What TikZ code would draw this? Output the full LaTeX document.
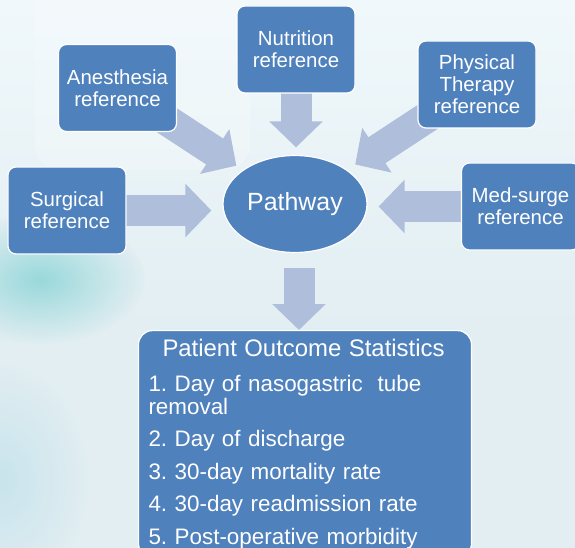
\documentclass[tikz,border=0pt]{standalone}
\usepackage{fontspec}
\setmainfont{Liberation Sans}
\usetikzlibrary{shapes.geometric,arrows.meta}
\definecolor{boxblue}{RGB}{79,129,189}
\definecolor{arrowblue}{RGB}{175,191,219}
\definecolor{bgbase}{RGB}{226,238,242}
\definecolor{bgtop}{RGB}{240,248,251}
\definecolor{tealglow}{RGB}{140,213,215}
\definecolor{blueglow}{RGB}{190,224,235}
\pgfdeclarelayer{bg}
\pgfdeclarelayer{arr}
\pgfsetlayers{bg,arr,main}
\frenchspacing
\tikzset{
  refbox/.style={rectangle, rounded corners=8bp, fill=boxblue, draw=white, line width=1.2bp,
    minimum width=118bp, minimum height=87bp, text=white, align=center,
    font=\fontsize{20.5}{22}\selectfont, inner sep=2bp},
  hubnode/.style={ellipse, fill=boxblue, draw=white, line width=1.2bp,
    minimum width=144bp, minimum height=97bp, inner sep=0pt, text=white,
    font=\fontsize{25}{27}\selectfont},
  statbox/.style={rectangle, rounded corners=14bp, fill=boxblue, draw=white, line width=1.2bp,
    text width=313bp, inner xsep=10bp, inner ysep=8.7bp, text=white, align=left,
    font=\fontsize{22.5}{23.5}\selectfont},
  blockarrow/.style={draw=arrowblue, line width=31bp, -{Triangle[length=26bp,width=52bp]}}
}
\begin{document}
\begin{tikzpicture}[x=1bp,y=-1bp]
\useasboundingbox (0,0) rectangle (575,548);
\begin{pgfonlayer}{bg}
  \fill[bgbase] (0,0) rectangle (575,548);
  \shade[top color=bgtop, bottom color=bgbase] (0,0) rectangle (575,330);
  \fill[white, opacity=0.22, rounded corners=25bp] (35,-30) rectangle (250,170);
  \shade[inner color=tealglow, outer color=bgbase, opacity=0.85] (40,280) ellipse (105 and 65);
  \shade[inner color=blueglow, outer color=bgbase, opacity=0.7] (0,480) ellipse (90 and 120);
\end{pgfonlayer}

\node[refbox] (anes) at (117.5,88) {Anesthesia\\reference};
\node[refbox] (nutr) at (296,49.5) {Nutrition\\reference};
\node[refbox] (phys) at (477,84.5) {Physical\\Therapy\\reference};
\node[refbox] (surg) at (67,210.5) {Surgical\\reference};
\node[refbox] (med) at (520.5,206.5) {Med-surge\\reference};
\node[hubnode] (pw) at (295,204) {Pathway};
\node[statbox, anchor=north] (stats) at (305,330)
  {\hspace*{14bp}{\fontsize{24}{23.5}\selectfont Patient Outcome Statistics}\\[11bp]
   1. Day of nasogastric\ \ tube\\
   removal\\[9bp]
   2. Day of discharge\\[9bp]
   3. 30-day mortality rate\\[9bp]
   4. 30-day readmission rate\\[9bp]
   5. Post-operative morbidity};

\begin{pgfonlayer}{arr}
  \draw[blockarrow, shorten >=70bp] (anes.center) -- (pw.center);
  \draw[blockarrow, shorten >=72bp] (phys.center) -- (pw.center);
  \draw[blockarrow, shorten >=7.5bp] (nutr.center) -- (nutr.center |- pw.north);
  \draw[blockarrow, shorten >=11bp] (surg.center) -- (surg.center -| pw.west);
  \draw[blockarrow, shorten >=11bp] (med.center) -- (med.center -| pw.east);
  \draw[blockarrow, shorten <=15bp] ([xshift=4bp]pw.south) -- ([xshift=4bp]pw.south |- stats.north);
\end{pgfonlayer}
\end{tikzpicture}
\end{document}
